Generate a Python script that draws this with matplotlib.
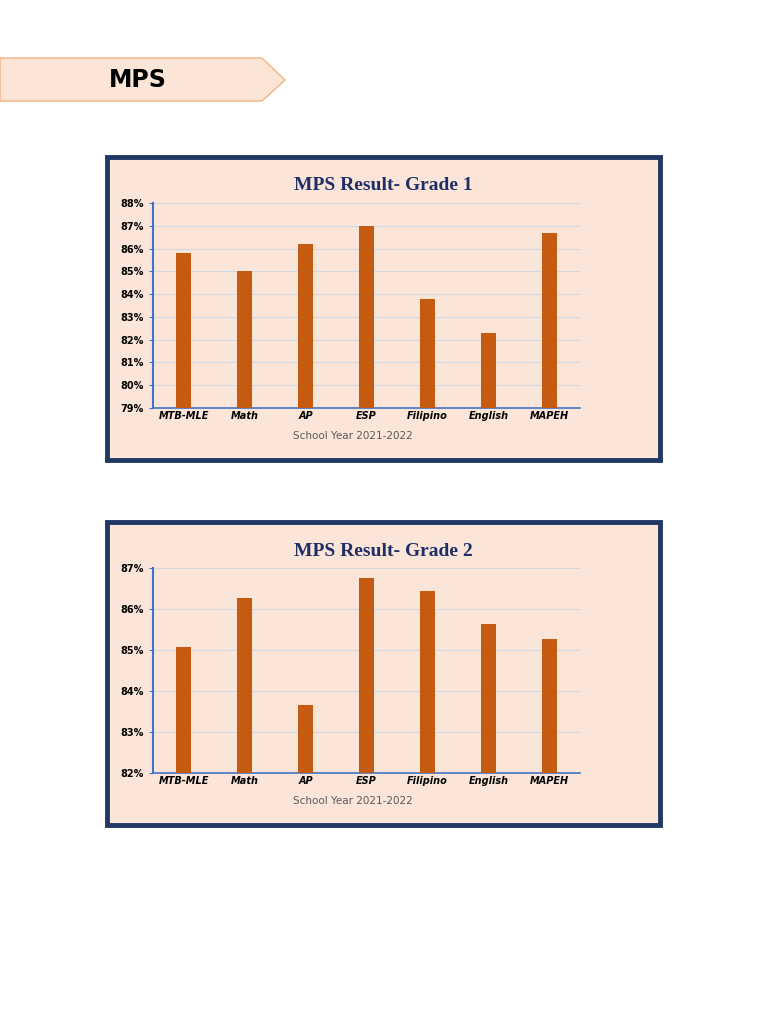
import matplotlib
matplotlib.use("Agg")
import matplotlib.pyplot as plt
from matplotlib.patches import Polygon, Rectangle
from matplotlib.ticker import FuncFormatter

subjects = ["MTB-MLE", "Math", "AP", "ESP", "Filipino", "English", "MAPEH"]
grade1 = [85.8, 85.0, 86.2, 87.0, 83.8, 82.3, 86.7]
grade2 = [85.07, 86.27, 83.67, 86.75, 86.45, 85.63, 85.27]
grade1_ticks = list(range(79, 89))
grade2_ticks = list(range(82, 88))

W, H = 768, 1024
fig = plt.figure(figsize=(W/100, H/100), dpi=100)
bg = fig.add_axes([0, 0, 1, 1])
bg.set_xlim(0, W); bg.set_ylim(H, 0); bg.axis("off")

bg.add_patch(Polygon([(0, 58), (262, 58), (285, 80), (262, 101), (0, 101)],
                     closed=True, facecolor="#FBE5D6", edgecolor="#F4B183", lw=1))
bg.text(138, 80, "MPS", fontsize=17, fontweight="bold", ha="center", va="center",
        family="DejaVu Sans")

bar_color = "#C55A11"
panel_bg = "#FBE5D9"

def chart(top, vals, ticks, title):
    bg.add_patch(Rectangle((107, top), 553, 303, facecolor=panel_bg,
                           edgecolor="#203864", lw=3.5))
    bg.text(383, top + 29, title, fontsize=14, fontweight="bold", ha="center",
            va="center", color="#1F2F66", family="Liberation Serif")
    bg.text(353, top + 279, "School Year 2021-2022", fontsize=7.5, ha="center",
            va="center", color="#595959")
    ax_top = top + 46
    ax_bot = top + 251
    ax = fig.add_axes([153/W, 1 - ax_bot/H, (580-153)/W, (ax_bot-ax_top)/H])
    ax.set_facecolor(panel_bg)
    ax.bar(range(len(vals)), vals, width=0.25, color=bar_color, zorder=3)
    ax.set_ylim(ticks[0], ticks[-1])
    ax.set_yticks(ticks)
    ax.yaxis.set_major_formatter(FuncFormatter(lambda v, p: f"{v:.0f}%"))
    ax.set_xlim(-0.5, len(vals) - 0.5)
    ax.set_xticks(range(len(vals)))
    ax.set_xticklabels(subjects, fontstyle="italic", fontweight="bold", fontsize=7)
    ax.tick_params(axis="y", labelsize=7, length=3, color="#4472C4")
    for lab in ax.get_yticklabels():
        lab.set_fontweight("bold")
    ax.tick_params(axis="x", length=0, pad=2)
    ax.grid(axis="y", color="#D0D8E4", lw=0.8, zorder=0)
    for s in ["top", "right"]:
        ax.spines[s].set_visible(False)
    ax.spines["left"].set_color("#4472C4"); ax.spines["left"].set_linewidth(1.5)
    ax.spines["bottom"].set_color("#4472C4"); ax.spines["bottom"].set_linewidth(1.2)

chart(157, grade1, grade1_ticks, "MPS Result- Grade 1")
chart(522, grade2, grade2_ticks, "MPS Result- Grade 2")

fig.savefig("out.png", dpi=100, facecolor="white")
